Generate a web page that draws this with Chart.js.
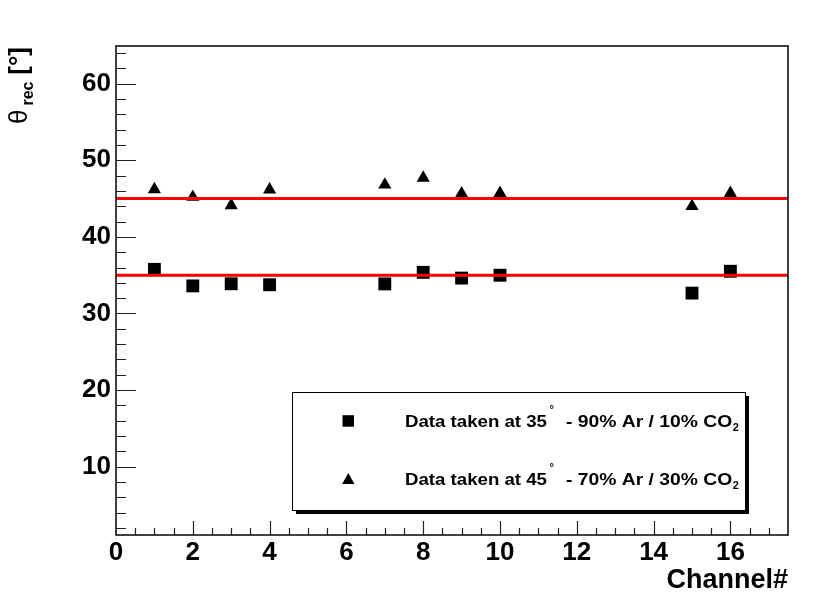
<!DOCTYPE html>
<html>
<head>
<meta charset="utf-8">
<script src="https://cdn.jsdelivr.net/npm/chart.js@4"></script>
<style>
  html, body { margin: 0; padding: 0; background: #fff; }
  canvas { display: block; }
</style>
</head>
<body>
<canvas id="chan" width="830" height="602"></canvas>
<script>
// ── DATA ─────────────────────────────────────────────────────
const channels = [1, 2, 3, 4, 7, 8, 9, 10, 15, 16]
const theta35 = [35.76, 33.6, 33.88, 33.75, 33.86, 35.37, 34.62, 34.99, 32.66, 35.51]
const theta45 = [46.2, 45.2, 44.1, 46.15, 46.8, 47.7, 45.65, 45.7, 44.0, 45.7]
const fitLevels = [45, 35]
const xRange = [0, 17.5]
const yRange = [1.1, 64.9]
const xTicks = [0, 2, 4, 6, 8, 10, 12, 14, 16]
const yTicks = [10, 20, 30, 40, 50, 60]
const legendAngles = ['35', '45']
const legendGas = ['- 90% Ar / 10% CO', '- 70% Ar / 30% CO']

const FONT = '"Liberation Sans", Arial, Helvetica, sans-serif'

// stretched text helper (ROOT's Helvetica is a little wider)
function wideText(ctx, txt, x, y, sx) {
  ctx.save()
  ctx.translate(x, y)
  ctx.scale(sx, 1)
  ctx.fillText(txt, 0, 0)
  ctx.restore()
  return ctx.measureText(txt).width * sx
}

// ── FRAME + INSIDE TICKS ─────────────────────────────────────
const frameTicks = {
  id: 'frameTicks',
  afterDatasetsDraw(chart) {
    const { ctx, chartArea: a, scales: { x, y } } = chart
    ctx.save()
    ctx.strokeStyle = '#222'
    ctx.lineWidth = 1.2
    ctx.beginPath()
    for (let v = Math.ceil(y.min / 2) * 2; v <= y.max; v += 2) {
      const p = Math.round(y.getPixelForValue(v)) + 0.5
      ctx.moveTo(a.left, p)
      ctx.lineTo(a.left + (v % 10 === 0 ? 20 : 10), p)
    }
    for (let v = x.min + 0.5; v < x.max; v += 0.5) {
      const p = Math.round(x.getPixelForValue(v)) + 0.5
      ctx.moveTo(p, a.bottom)
      ctx.lineTo(p, a.bottom - (v % 2 === 0 ? 14 : 7))
    }
    ctx.stroke()
    ctx.strokeStyle = '#111'
    ctx.lineWidth = 1.6
    ctx.strokeRect(a.left, a.top, a.right - a.left, a.bottom - a.top)
    ctx.restore()
  }
}

// ── TITLES + LEGEND BOX ──────────────────────────────────────
const annotations = {
  id: 'annotations',
  afterDraw(chart) {
    const { ctx, chartArea: a } = chart
    ctx.save()
    ctx.fillStyle = '#000'
    ctx.textAlign = 'left'
    ctx.textBaseline = 'alphabetic'

    // y title: θ_rec [°]
    ctx.save()
    ctx.translate(26.5, 124)
    ctx.rotate(-Math.PI / 2)
    ctx.font = '26px ' + FONT
    ctx.fillText('θ', 0, 0)
    ctx.font = 'bold 16px ' + FONT
    ctx.fillText('rec', 18.5, 6.6)
    ctx.font = 'bold 26px ' + FONT
    ctx.textAlign = 'right'
    ctx.fillText('[°]', 77, 0)
    ctx.restore()

    // x title
    ctx.font = 'bold 27px ' + FONT
    ctx.textAlign = 'right'
    ctx.fillText('Channel#', a.right, 588)
    ctx.textAlign = 'left'

    // legend box with shadow
    const bx = 292, by = 392, bw = 453, bh = 118
    ctx.fillRect(bx + 4, by + 4, bw, bh)
    ctx.fillStyle = '#fff'
    ctx.fillRect(bx, by, bw, bh)
    ctx.strokeStyle = '#000'
    ctx.lineWidth = 1
    ctx.strokeRect(bx + 0.5, by + 0.5, bw, bh)
    ctx.fillStyle = '#000'

    const rows = [426.7, 485]
    // markers
    ctx.fillRect(342.5, rows[0] - 11.5, 11.5, 11.5)
    ctx.beginPath()
    ctx.moveTo(348.3, rows[1] - 12)
    ctx.lineTo(354.5, rows[1] - 1)
    ctx.lineTo(342.1, rows[1] - 1)
    ctx.closePath()
    ctx.fill()

    rows.forEach((base, i) => {
      ctx.font = 'bold 16.5px ' + FONT
      wideText(ctx, 'Data taken at ' + legendAngles[i], 405, base, 1.13)
      ctx.font = 'bold 11px ' + FONT
      ctx.fillText('°', 549.5, base - 14)
      ctx.font = 'bold 16.5px ' + FONT
      const w = wideText(ctx, legendGas[i], 566, base, 1.17)
      ctx.font = 'bold 11px ' + FONT
      ctx.fillText('2', 566 + w + 0.5, base + 4)
    })
    ctx.restore()
  }
}

// ── CHART ────────────────────────────────────────────────────
const toPts = ys => channels.map((c, i) => ({ x: c, y: ys[i] }))

new Chart(document.getElementById('chan'), {
  type: 'scatter',
  data: {
    datasets: [
      ...fitLevels.map(lv => ({
        type: 'line',
        label: 'fit ' + lv,
        data: xRange.map(xv => ({ x: xv, y: lv })),
        borderColor: '#ff0000',
        borderWidth: 3,
        pointRadius: 0,
        fill: false
      })),
      {
        label: 'Data taken at 35° - 90% Ar / 10% CO2',
        data: toPts(theta35),
        pointStyle: 'rect',
        pointRadius: 9.1,
        backgroundColor: '#000',
        borderWidth: 0
      },
      {
        label: 'Data taken at 45° - 70% Ar / 30% CO2',
        data: toPts(theta45),
        pointStyle: 'triangle',
        pointRadius: 7.6,
        backgroundColor: '#000',
        borderWidth: 0
      }
    ]
  },
  options: {
    responsive: false,
    animation: false,
    layout: { padding: { top: 46, right: 42, left: 0, bottom: 0 } },
    plugins: {
      legend: { display: false },
      tooltip: { enabled: false }
    },
    scales: {
      x: {
        type: 'linear',
        min: xRange[0],
        max: xRange[1],
        afterFit: s => { s.height = 67 },
        afterBuildTicks: s => { s.ticks = xTicks.map(v => ({ value: v })) },
        grid: { display: false, drawTicks: false },
        border: { display: false },
        ticks: {
          color: '#000',
          padding: 2,
          maxRotation: 0,
          autoSkip: false,
          font: { family: FONT, size: 26, weight: 'bold' }
        }
      },
      y: {
        type: 'linear',
        min: yRange[0],
        max: yRange[1],
        afterFit: s => { s.width = 116 },
        afterBuildTicks: s => { s.ticks = yTicks.map(v => ({ value: v })) },
        grid: { display: false, drawTicks: false },
        border: { display: false },
        ticks: {
          color: '#000',
          padding: 5,
          font: { family: FONT, size: 26, weight: 'bold' }
        }
      }
    }
  },
  plugins: [frameTicks, annotations]
})
</script>
</body>
</html>
